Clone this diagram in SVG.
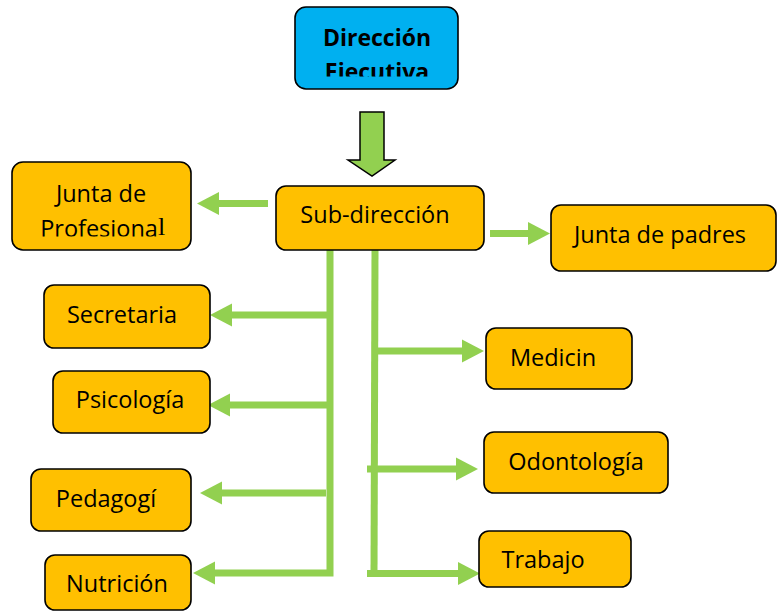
<svg xmlns="http://www.w3.org/2000/svg" width="784" height="612" viewBox="0 0 784 612">
<defs>
<style>
.box{fill:#FFC000;stroke:#000;stroke-width:1.6}
.top{fill:#00B0F0;stroke:#000;stroke-width:1.6}
.t{font-family:"Open Sans","Noto Sans",sans-serif;font-size:23.5px;fill:#000;text-anchor:middle}
.b{font-weight:bold;font-size:23px}
.c{fill:none;stroke:#92D050;stroke-width:7;stroke-linejoin:miter}
</style>
<marker id="ah" markerUnits="userSpaceOnUse" markerWidth="23" markerHeight="24" refX="0" refY="11.5" orient="auto" overflow="visible">
<path d="M0,0 L22,11.5 L0,23 Z" fill="#92D050"/>
</marker>
<clipPath id="clipTop"><rect x="295" y="7" width="163" height="69.5"/></clipPath>
<clipPath id="clipJP"><rect x="12" y="162" width="179" height="74.5"/></clipPath>
</defs>
<g id="connectors">
<polygon points="360,112 384,112 384,160 395,160 372,176 348,160 360,160" fill="#92D050" stroke="#000" stroke-width="1.5" stroke-linejoin="miter"/>
<line class="c" x1="268" y1="203.5" x2="219" y2="203.5" marker-end="url(#ah)"/>
<line class="c" x1="490" y1="233.5" x2="528" y2="233.5" marker-end="url(#ah)"/>
<polyline class="c" points="330,250 330,573 215,573" marker-end="url(#ah)"/>
<line class="c" x1="330" y1="315" x2="232" y2="315" marker-end="url(#ah)"/>
<line class="c" x1="330" y1="405" x2="230" y2="405" marker-end="url(#ah)"/>
<line class="c" x1="326" y1="493" x2="222" y2="493" marker-end="url(#ah)"/>
<line class="c" x1="375" y1="250" x2="374" y2="577"/>
<line class="c" x1="375" y1="351" x2="462" y2="351" marker-end="url(#ah)"/>
<line class="c" x1="367" y1="469" x2="456" y2="469" marker-end="url(#ah)"/>
<line class="c" x1="367" y1="573.5" x2="458" y2="573.5" marker-end="url(#ah)"/>
</g>
<g id="direccion-ejecutiva">
<rect class="top" x="295" y="7" width="163" height="82" rx="11"/>
<text class="t b" x="377" y="46" clip-path="url(#clipTop)">Dirección<tspan x="377" y="80">Ejecutiva</tspan></text>
</g>
<g id="sub-direccion">
<rect class="box" x="276" y="186" width="208" height="64" rx="10"/>
<text class="t" x="375" y="223">Sub-dirección</text>
</g>
<g id="junta-profesional">
<rect class="box" x="12" y="162" width="179" height="88" rx="11"/>
<text class="t" x="101" y="202">Junta de</text>
<text class="t" x="99" y="237" clip-path="url(#clipJP)">Profesiona</text>
<text x="158" y="235" font-family="Liberation Serif, serif" font-size="26">l</text>
</g>
<g id="junta-padres">
<rect class="box" x="551" y="205" width="225" height="66" rx="10"/>
<text class="t" x="660" y="243">Junta de padres</text>
</g>
<g id="secretaria">
<rect class="box" x="44" y="285" width="166" height="63" rx="10"/>
<text class="t" x="122" y="323">Secretaria</text>
</g>
<g id="psicologia">
<rect class="box" x="53" y="371" width="157" height="62" rx="10"/>
<text class="t" x="130" y="408">Psicología</text>
</g>
<g id="pedagogia">
<rect class="box" x="31" y="469" width="160" height="62" rx="10"/>
<text class="t" x="106" y="507">Pedagogí</text>
</g>
<g id="nutricion">
<rect class="box" x="45" y="555" width="146" height="55" rx="10"/>
<text class="t" x="117" y="592">Nutrición</text>
</g>
<g id="medicin">
<rect class="box" x="486" y="328" width="146" height="61" rx="10"/>
<text class="t" x="553" y="366">Medicin</text>
</g>
<g id="odontologia">
<rect class="box" x="484" y="432" width="184" height="61" rx="10"/>
<text class="t" x="576" y="470">Odontología</text>
</g>
<g id="trabajo">
<rect class="box" x="479" y="531" width="152" height="56" rx="10"/>
<text class="t" x="543" y="568">Trabajo</text>
</g>
</svg>
